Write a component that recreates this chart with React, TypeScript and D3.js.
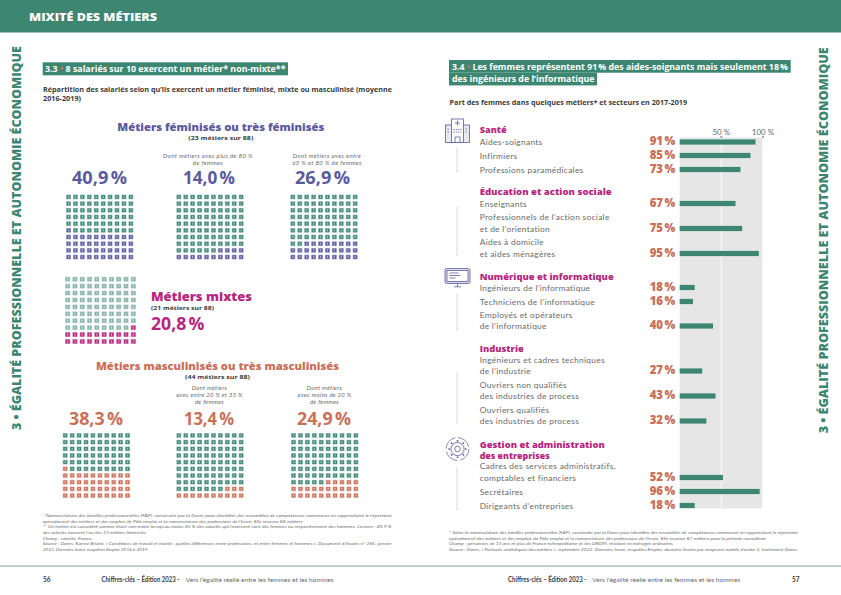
import * as d3 from 'd3';

const NB = '\u202f';

// page 56 waffles
const femLabels = [`40,9${NB}%`, `14,0${NB}%`, `26,9${NB}%`];
const femCells = [41, 14, 28];
const femNotes = [[], [`Dont métiers avec plus de 80${NB}%`, 'de femmes'], ['Dont métiers avec entre', `65${NB}% et 80${NB}% de femmes`]];
const mascLabels = [`38,3${NB}%`, `13,4${NB}%`, `24,9${NB}%`];
const mascCells = [41, 13, 25];
const mascNotes = [[], ['Dont métiers', `avec entre 20${NB}% et 35${NB}%`, 'de femmes'], ['Dont métiers', `avec moins de 20${NB}%`, 'de femmes']];
const mixedCells = 21;

// page 57 bars
const santeLabels = [['Aides-soignants'], ['Infirmiers'], ['Professions paramédicales']];
const santeValues = [91, 85, 73];
const educLabels = [['Enseignants'], ['Professionnels de l’action sociale', 'et de l’orientation'], ['Aides à domicile', 'et aides ménagères']];
const educValues = [67, 75, 95];
const numLabels = [['Ingénieurs de l’informatique'], ['Techniciens de l’informatique'], ['Employés et opérateurs', 'de l’informatique']];
const numValues = [18, 16, 40];
const indusLabels = [['Ingénieurs et cadres techniques', 'de l’industrie'], ['Ouvriers non qualifiés', 'des industries de process'], ['Ouvriers qualifiés', 'des industries de process']];
const indusValues = [27, 43, 32];
const gestLabels = [['Cadres des services administratifs,', 'comptables et financiers'], ['Secrétaires'], ['Dirigeants d’entreprises']];
const gestValues = [52, 96, 18];

const notes56 = [
  '* Nomenclature des familles professionnelles (FAP), construite par la Dares pour identifier des ensembles de compétences communes en rapprochant le répertoire',
  'opérationnel des métiers et des emplois de Pôle emploi et la nomenclature des professions de l’Insee. Elle recense 88 métiers.',
  `** Un métier est considéré comme étant non mixte lorsqu’au moins 65${NB}% des salariés qui l’exercent sont des femmes ou respectivement des hommes. Lecture : 40,9${NB}%`,
  'des salariés exercent l’un des 23 métiers féminisés.',
  'Champ : salariés, France.',
  'Source : Dares, Karine Briard, « Conditions de travail et mixité : quelles différences entre professions, et entre femmes et hommes », Document d’études n° 265, janvier',
  '2023. Données Insee, enquêtes Emploi 2016 à 2019.'
];
const notes57 = [
  '* Selon la nomenclature des familles professionnelles (FAP), construite par la Dares pour identifier des ensembles de compétences communes en rapprochant le répertoire',
  'opérationnel des métiers et des emplois de Pôle emploi et la nomenclature des professions de l’Insee. Elle recense 87 métiers pour la période considérée.',
  'Champ : personnes de 15 ans et plus de France métropolitaine et des DROM, résidant en ménages ordinaires.',
  'Source : Dares, « Portraits statistiques des métiers », septembre 2022. Données Insee, enquêtes Emploi, données lissées par moyenne mobile d’ordre 3, traitement Dares.'
];

const GREEN = '#3d8672';
const PURPLE = '#5b5a9e';
const PINK = '#b5277e';
const CORAL = '#c9705a';
const INK = '#3c3c3c';
const GREY = '#6a6a6a';
const FONT = 'Lato, "Open Sans", sans-serif';
const HEAD = '"Open Sans", Lato, sans-serif';

const cells = d3.range(100);

// text squeezed to the width measured on the page
const Fit = ({ w, children, ...rest }: any) => (
  <text textLength={w} lengthAdjust="spacingAndGlyphs" {...rest}>{children}</text>
);

// rows fill from the bottom; the partial row starts on the left or on the right
const Waffle = ({ x, y, w = 67.4, h = 65, count, color, fromRight = false, baseOpacity = 1 }: any) => {
  const cx = d3.scaleBand<number>().domain(d3.range(10)).range([0, w]).paddingInner(0.27);
  const cy = d3.scaleBand<number>().domain(d3.range(10)).range([0, h]).paddingInner(0.27);
  const full = Math.floor(count / 10);
  const rest = count % 10;
  return (
    <g transform={`translate(${x},${y})`}>
      {cells.map(i => {
        const rowUp = Math.floor(i / 10);
        const col = i % 10;
        const on = rowUp < full || (rowUp === full && (fromRight ? col >= 10 - rest : col < rest));
        const bw = cx.bandwidth();
        const bh = cy.bandwidth();
        const c = on ? color : GREEN;
        return (
          <g key={i} transform={`translate(${cx(col)},${cy(9 - rowUp)})`} opacity={on ? 1 : baseOpacity}>
            <rect width={bw} height={bh} fill={c} opacity={0.4} />
            <rect x={0.6} y={0.6} width={bw - 1.2} height={bh - 1.2} fill={c} />
            <rect x={bw / 2 - 0.6} y={1.3} width={1.2} height={bh - 2.6} fill="#fff" opacity={0.5} />
          </g>
        );
      })}
    </g>
  );
};

const BarGroup = ({ labels, values, ys, x }: any) => (
  <g>
    {values.map((v: number, i: number) => {
      const lines = labels[i];
      return (
        <g key={i}>
          <rect x={x(0)} y={ys[i] - 2.6} width={x(v) - x(0)} height={5.2} fill={GREEN} />
          <text x={649.7} y={ys[i] + 3.2} fontFamily={HEAD} fontWeight={800} fontSize={11.4} fill={CORAL}>{v}{NB}%</text>
          {lines.map((l: string, k: number) => (
            <text key={k} x={479.7} y={ys[i] + 3.2 - (lines.length - 1 - k) * 11.5} fontFamily={FONT} fontSize={8.4} letterSpacing={0.3} fill={GREY}>{l}</text>
          ))}
        </g>
      );
    })}
  </g>
);

const Connector = ({ y1, y2 }: any) => (
  <g stroke="#c4c4d2" strokeWidth={0.6}>
    <line x1={457} x2={457} y1={y1} y2={y2} />
    <line x1={456} x2={458} y1={y2} y2={y2} />
  </g>
);

const SectionHead = ({ y, w, children }: any) => (
  <Fit x={479.7} y={y} w={w} fontFamily={HEAD} fontWeight={800} fontSize={8.8} fill={PINK}>{children}</Fit>
);

const App = () => {
  const x = d3.scaleLinear().domain([0, 100]).range([679.7, 763]);
  const gearTeeth = d3.range(0, 360, 45);
  const notes56W = [349, 261, 349, 104, 50, 349, 106];
  const notes57W = [349, 318, 225, 349];
  return (
    <svg width={841} height={595} style={{ position: 'absolute', left: 0, top: 0, background: '#fff' }}>
      {/* banner */}
      <rect width={841} height={32.5} fill={GREEN} />
      <Fit x={29} y={21} w={128} fontFamily={HEAD} fontWeight={800} fontSize={10.8} fill="#fff">MIXITÉ DES MÉTIERS</Fit>

      {/* side titles */}
      <Fit transform="translate(21.3,430) rotate(-90)" w={384} fontFamily={HEAD} fontWeight={800} fontSize={11.9} fill={GREEN}>3 • ÉGALITÉ PROFESSIONNELLE ET AUTONOMIE ÉCONOMIQUE</Fit>
      <Fit transform="translate(828.4,433.3) rotate(-90)" w={386} fontFamily={HEAD} fontWeight={800} fontSize={11.9} fill={GREEN}>3 • ÉGALITÉ PROFESSIONNELLE ET AUTONOMIE ÉCONOMIQUE</Fit>

      {/* page 56 heading */}
      <rect x={42.7} y={62.3} width={245.3} height={13} fill={GREEN} />
      <Fit x={45} y={72} w={240.5} fontFamily={HEAD} fontWeight={700} fontSize={8.2} fill="#fff">3.3 <tspan fill={CORAL}>•</tspan> 8 salariés sur 10 exercent un métier* non-mixte**</Fit>
      <g fontFamily={HEAD} fontWeight={700} fontSize={6.7} fill={INK}>
        <Fit x={43} y={92.3} w={349}>Répartition des salariés selon qu’ils exercent un métier féminisé, mixte ou masculinisé (moyenne</Fit>
        <Fit x={43} y={101.3} w={38}>2016-2019)</Fit>
      </g>

      <Fit x={117.3} y={130.5} w={207} fontFamily={HEAD} fontWeight={800} fontSize={11.2} fill={PURPLE}>Métiers féminisés ou très féminisés</Fit>
      <Fit x={188.3} y={140.2} w={65} fontFamily={HEAD} fontWeight={700} fontSize={5.8} fill={INK}>(23 métiers sur 88)</Fit>

      {femLabels.map((label, i) => {
        const wx = [66, 176.3, 290.3][i];
        const lx = [72, 183, 295][i];
        const lw = [55, 52, 55][i];
        const nx = [0, 208, 327][i];
        return (
          <g key={label}>
            {femNotes[i].map((n, k) => (
              <text key={k} x={nx} y={158 + k * 7.4} textAnchor="middle" fontFamily={FONT} fontStyle="italic" fontSize={6} letterSpacing={0.38} fill={GREY}>{n}</text>
            ))}
            <Fit x={lx} y={184} w={lw} fontFamily={HEAD} fontWeight={700} fontSize={18.6} fill={PURPLE}>{label}</Fit>
            <Waffle x={wx} y={194.5} count={femCells[i]} color={PURPLE} fromRight={i > 0} />
          </g>
        );
      })}

      <Waffle x={65} y={276.7} w={71} h={67.3} count={mixedCells} color={PINK} fromRight baseOpacity={0.62} />
      <Fit x={151} y={300.6} w={101} fontFamily={HEAD} fontWeight={800} fontSize={12.8} fill={PINK}>Métiers mixtes</Fit>
      <Fit x={151} y={310} w={63} fontFamily={HEAD} fontWeight={700} fontSize={5.6} fill={INK}>(21 métiers sur 88)</Fit>
      <Fit x={151} y={330} w={53.5} fontFamily={HEAD} fontWeight={700} fontSize={17.6} fill={PINK}>{`20,8${NB}%`}</Fit>

      <Fit x={96} y={369.5} w={243} fontFamily={HEAD} fontWeight={800} fontSize={10.4} fill={CORAL}>Métiers masculinisés ou très masculinisés</Fit>
      <Fit x={185} y={378.5} w={65} fontFamily={HEAD} fontWeight={700} fontSize={5.6} fill={INK}>(44 métiers sur 88)</Fit>

      {mascLabels.map((label, i) => {
        const wx = [62.7, 176.3, 291][i];
        const lx = [69, 184, 297][i];
        const lw = [54, 50, 54][i];
        const nx = [0, 209.5, 324.5][i];
        return (
          <g key={label}>
            {mascNotes[i].map((n, k) => (
              <text key={k} x={nx} y={389.7 + k * 7.3} textAnchor="middle" fontFamily={FONT} fontStyle="italic" fontSize={5.9} letterSpacing={0.3} fill={GREY}>{n}</text>
            ))}
            <Fit x={lx} y={425} w={lw} fontFamily={HEAD} fontWeight={700} fontSize={17.6} fill={CORAL}>{label}</Fit>
            <Waffle x={wx} y={433} count={mascCells[i]} color={CORAL} fromRight={i > 0} />
          </g>
        );
      })}

      {notes56.map((n, i) => (
        <Fit key={i} x={42.7} y={517.3 + i * 5.55} w={notes56W[i]} fontFamily={FONT} fontStyle="italic" fontSize={4.6} fill={GREY}>{n}</Fit>
      ))}

      {/* page 57 heading */}
      <rect x={449} y={60} width={341.7} height={12.7} fill={GREEN} />
      <rect x={449} y={72.7} width={148} height={12.7} fill={GREEN} />
      <g fontFamily={HEAD} fontWeight={700} fontSize={8.2} fill="#fff">
        <Fit x={452} y={70} w={336}>3.4 <tspan fill={CORAL}>•</tspan> {`Les femmes représentent 91${NB}% des aides-soignants mais seulement 18${NB}%`}</Fit>
        <Fit x={452} y={82} w={142.5}>des ingénieurs de l’informatique</Fit>
      </g>
      <Fit x={449.5} y={105} w={237.5} fontFamily={HEAD} fontWeight={700} fontSize={6.6} fill={INK}>Part des femmes dans quelques métiers* et secteurs en 2017-2019</Fit>

      {/* bar background */}
      <rect x={x(0)} y={137.5} width={x(100) - x(0) - 0.7} height={371} fill="#e6e6e6" />
      <line x1={x(50)} x2={x(50)} y1={137.5} y2={508.5} stroke="#fff" strokeWidth={0.9} />
      {[50, 100].map(t => (
        <g key={t}>
          <text x={x(t)} y={135} textAnchor="middle" fontFamily={FONT} fontSize={8} fill={GREY}>{t}{NB}%</text>
          <path d={`M${x(t) - 1.2},136.5 h2.4 l-1.2,1.6 z`} fill={INK} />
        </g>
      ))}

      <SectionHead y={133.3} w={27}>Santé</SectionHead>
      <BarGroup labels={santeLabels} values={santeValues} ys={[142, 155.5, 169.5]} x={x} />
      <SectionHead y={194.7} w={132}>Éducation et action sociale</SectionHead>
      <BarGroup labels={educLabels} values={educValues} ys={[203.5, 228.5, 253.5]} x={x} />
      <SectionHead y={279.7} w={134}>Numérique et informatique</SectionHead>
      <BarGroup labels={numLabels} values={numValues} ys={[287.5, 301.5, 326]} x={x} />
      <SectionHead y={351.7} w={44}>Industrie</SectionHead>
      <BarGroup labels={indusLabels} values={indusValues} ys={[371, 396, 421]} x={x} />
      <SectionHead y={447.7} w={125}>Gestion et administration</SectionHead>
      <SectionHead y={458.7} w={70}>des entreprises</SectionHead>
      <BarGroup labels={gestLabels} values={gestValues} ys={[477.5, 491.5, 505.5]} x={x} />

      {/* connectors */}
      <Connector y1={148} y2={171.7} />
      <Connector y1={206.7} y2={255.7} />
      <Connector y1={293} y2={330} />
      <Connector y1={371.7} y2={423} />
      <Connector y1={466.7} y2={509.3} />

      {/* icons */}
      <g fill="none" stroke={PURPLE} strokeWidth={0.8}>
        {/* hospital */}
        <rect x={445.5} y={125} width={24} height={17.5} fill="#e9e9f3" />
        <rect x={451.5} y={119} width={12} height={23.5} fill="#fff" />
        <path d="M457.5,120.5 v5 M455,123 h5 M455,142.5 v-5.5 h5 v5.5" />
        <path d="M453.5,129.5 h8 M453.5,132 h8 M447.5,129 h2 M447.5,132 h2 M465.5,129 h2 M465.5,132 h2" strokeDasharray="1.4 0.9" />
        {/* computer */}
        <rect x={445} y={268.5} width={25} height={15} rx={1.5} fill="#dcdcec" />
        <rect x={447} y={270.5} width={21} height={11} fill="#fff" />
        <path d="M449.5,273 h9 M449.5,275.5 h11 M449.5,278 h6 M454,286.8 h7 M457.5,283.5 v3.3" />
        {/* gear */}
        <circle cx={457.5} cy={449} r={11.4} strokeDasharray="15 3" strokeWidth={0.7} />
        <circle cx={457.5} cy={449} r={6.6} />
        <circle cx={457.5} cy={449} r={2.8} />
        {gearTeeth.map(a => (
          <line key={a} x1={457.5} x2={457.5} y1={441.5} y2={440} strokeWidth={1.6} transform={`rotate(${a} 457.5 449)`} />
        ))}
      </g>

      {notes57.map((n, i) => (
        <Fit key={i} x={449} y={534.3 + i * 5.55} w={notes57W[i]} fontFamily={FONT} fontStyle="italic" fontSize={4.5} fill={GREY}>{n}</Fit>
      ))}

      {/* footer */}
      <rect x={0} y={565.3} width={841} height={1.5} fill="#a9c6bd" />
      <g fontFamily={FONT} fontSize={6.5} fill={GREY}>
        <text x={43} y={582} fontWeight={700} fill={INK}>56</text>
        <Fit x={101.5} y={582} w={78} fontWeight={700} fill={INK}>Chiffres-clés – Édition 2023 -</Fit>
        <Fit x={185.7} y={582} w={148}>Vers l’égalité réelle entre les femmes et les hommes</Fit>
        <Fit x={508} y={581.7} w={78.5} fontWeight={700} fill={INK}>Chiffres-clés – Édition 2023 -</Fit>
        <Fit x={592.3} y={581.7} w={148}>Vers l’égalité réelle entre les femmes et les hommes</Fit>
        <text x={792} y={581.7} fontWeight={700} fill={INK}>57</text>
      </g>
    </svg>
  );
};

export default App;
